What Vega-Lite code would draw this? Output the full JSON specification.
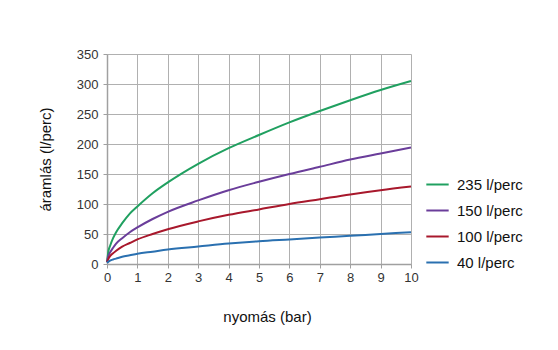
{
  "$schema": "https://vega.github.io/schema/vega-lite/v6.json",
  "width": 304,
  "height": 210,
  "autosize": "none",
  "padding": {"left": 107, "top": 54, "right": 147, "bottom": 86},
  "background": "white",
  "config": {
    "font": "Liberation Sans",
    "view": {"stroke": null},
    "axis": {
      "labelFont": "Liberation Sans",
      "titleFont": "Liberation Sans",
      "labelFontSize": 13,
      "labelColor": "#333333",
      "titleFontSize": 15,
      "titleFontWeight": "normal",
      "titleColor": "#111111",
      "gridColor": "#b0b0b0",
      "gridOpacity": 1,
      "gridWidth": 1,
      "domainColor": "#a0a0a0",
      "domainWidth": 1.5,
      "tickColor": "#a0a0a0",
      "tickSize": 4,
      "labelFlush": false
    }
  },
  "data": {
    "values": [
      {"s": "235 l/perc", "p": 0, "q": 3},
      {"s": "235 l/perc", "p": 0.05, "q": 22},
      {"s": "235 l/perc", "p": 0.1, "q": 30},
      {"s": "235 l/perc", "p": 0.2, "q": 43},
      {"s": "235 l/perc", "p": 0.3, "q": 53},
      {"s": "235 l/perc", "p": 0.5, "q": 68},
      {"s": "235 l/perc", "p": 0.75, "q": 84},
      {"s": "235 l/perc", "p": 1, "q": 96},
      {"s": "235 l/perc", "p": 1.5, "q": 118},
      {"s": "235 l/perc", "p": 2, "q": 136},
      {"s": "235 l/perc", "p": 3, "q": 167},
      {"s": "235 l/perc", "p": 4, "q": 193},
      {"s": "235 l/perc", "p": 5, "q": 215},
      {"s": "235 l/perc", "p": 6, "q": 236},
      {"s": "235 l/perc", "p": 7, "q": 255},
      {"s": "235 l/perc", "p": 8, "q": 273},
      {"s": "235 l/perc", "p": 9, "q": 290},
      {"s": "235 l/perc", "p": 10, "q": 305},
      {"s": "150 l/perc", "p": 0, "q": 3},
      {"s": "150 l/perc", "p": 0.05, "q": 14},
      {"s": "150 l/perc", "p": 0.1, "q": 19},
      {"s": "150 l/perc", "p": 0.2, "q": 27},
      {"s": "150 l/perc", "p": 0.3, "q": 34},
      {"s": "150 l/perc", "p": 0.5, "q": 43},
      {"s": "150 l/perc", "p": 0.75, "q": 53},
      {"s": "150 l/perc", "p": 1, "q": 61},
      {"s": "150 l/perc", "p": 1.5, "q": 75},
      {"s": "150 l/perc", "p": 2, "q": 87},
      {"s": "150 l/perc", "p": 3, "q": 106},
      {"s": "150 l/perc", "p": 4, "q": 123},
      {"s": "150 l/perc", "p": 5, "q": 137},
      {"s": "150 l/perc", "p": 6, "q": 150},
      {"s": "150 l/perc", "p": 7, "q": 162},
      {"s": "150 l/perc", "p": 8, "q": 174},
      {"s": "150 l/perc", "p": 9, "q": 184},
      {"s": "150 l/perc", "p": 10, "q": 194},
      {"s": "100 l/perc", "p": 0, "q": 3},
      {"s": "100 l/perc", "p": 0.05, "q": 9},
      {"s": "100 l/perc", "p": 0.1, "q": 13},
      {"s": "100 l/perc", "p": 0.2, "q": 18},
      {"s": "100 l/perc", "p": 0.3, "q": 22},
      {"s": "100 l/perc", "p": 0.5, "q": 29},
      {"s": "100 l/perc", "p": 0.75, "q": 35},
      {"s": "100 l/perc", "p": 1, "q": 41},
      {"s": "100 l/perc", "p": 1.5, "q": 50},
      {"s": "100 l/perc", "p": 2, "q": 58},
      {"s": "100 l/perc", "p": 3, "q": 71},
      {"s": "100 l/perc", "p": 4, "q": 82},
      {"s": "100 l/perc", "p": 5, "q": 91},
      {"s": "100 l/perc", "p": 6, "q": 100},
      {"s": "100 l/perc", "p": 7, "q": 108},
      {"s": "100 l/perc", "p": 8, "q": 116},
      {"s": "100 l/perc", "p": 9, "q": 123},
      {"s": "100 l/perc", "p": 10, "q": 129},
      {"s": "\u00a040 l/perc", "p": 0, "q": 2},
      {"s": "\u00a040 l/perc", "p": 0.05, "q": 4},
      {"s": "\u00a040 l/perc", "p": 0.1, "q": 5.5},
      {"s": "\u00a040 l/perc", "p": 0.2, "q": 7.5},
      {"s": "\u00a040 l/perc", "p": 0.3, "q": 9},
      {"s": "\u00a040 l/perc", "p": 0.5, "q": 12},
      {"s": "\u00a040 l/perc", "p": 0.75, "q": 14.5},
      {"s": "\u00a040 l/perc", "p": 1, "q": 17},
      {"s": "\u00a040 l/perc", "p": 1.5, "q": 20.5},
      {"s": "\u00a040 l/perc", "p": 2, "q": 24},
      {"s": "\u00a040 l/perc", "p": 3, "q": 29},
      {"s": "\u00a040 l/perc", "p": 4, "q": 34},
      {"s": "\u00a040 l/perc", "p": 5, "q": 38},
      {"s": "\u00a040 l/perc", "p": 6, "q": 41},
      {"s": "\u00a040 l/perc", "p": 7, "q": 44},
      {"s": "\u00a040 l/perc", "p": 8, "q": 47},
      {"s": "\u00a040 l/perc", "p": 9, "q": 50},
      {"s": "\u00a040 l/perc", "p": 10, "q": 53}
    ]
  },
  "mark": {"type": "line", "interpolate": "monotone", "strokeWidth": 2},
  "encoding": {
    "x": {
      "field": "p", "type": "quantitative",
      "scale": {"domain": [0, 10], "nice": false},
      "axis": {
        "values": [0, 1, 2, 3, 4, 5, 6, 7, 8, 9, 10],
        "title": "nyomás (bar)",
        "titleX": 160, "titleY": 52, "titleBaseline": "middle",
        "labelPadding": 3
      }
    },
    "y": {
      "field": "q", "type": "quantitative",
      "scale": {"domain": [0, 350], "nice": false},
      "axis": {
        "values": [0, 50, 100, 150, 200, 250, 300, 350],
        "title": "áramlás (l/perc)",
        "titleX": -62, "titleY": 105, "titleBaseline": "middle", "titleAngle": -90,
        "labelPadding": 5
      }
    },
    "color": {
      "field": "s", "type": "nominal",
      "sort": ["235 l/perc", "150 l/perc", "100 l/perc", "\u00a040 l/perc"],
      "scale": {
        "domain": ["235 l/perc", "150 l/perc", "100 l/perc", "\u00a040 l/perc"],
        "range": ["#20a060", "#6a3d9a", "#a8182c", "#2a70b0"]
      },
      "legend": {
        "title": null,
        "orient": "none",
        "legendX": 318,
        "legendY": 118,
        "symbolType": "stroke",
        "symbolSize": 500,
        "symbolStrokeWidth": 2,
        "labelFontSize": 15,
        "labelFont": "Liberation Sans",
        "labelColor": "#111111",
        "rowPadding": 5,
        "labelOffset": 7
      }
    },
    "order": {"field": "p", "type": "quantitative"}
  }
}
